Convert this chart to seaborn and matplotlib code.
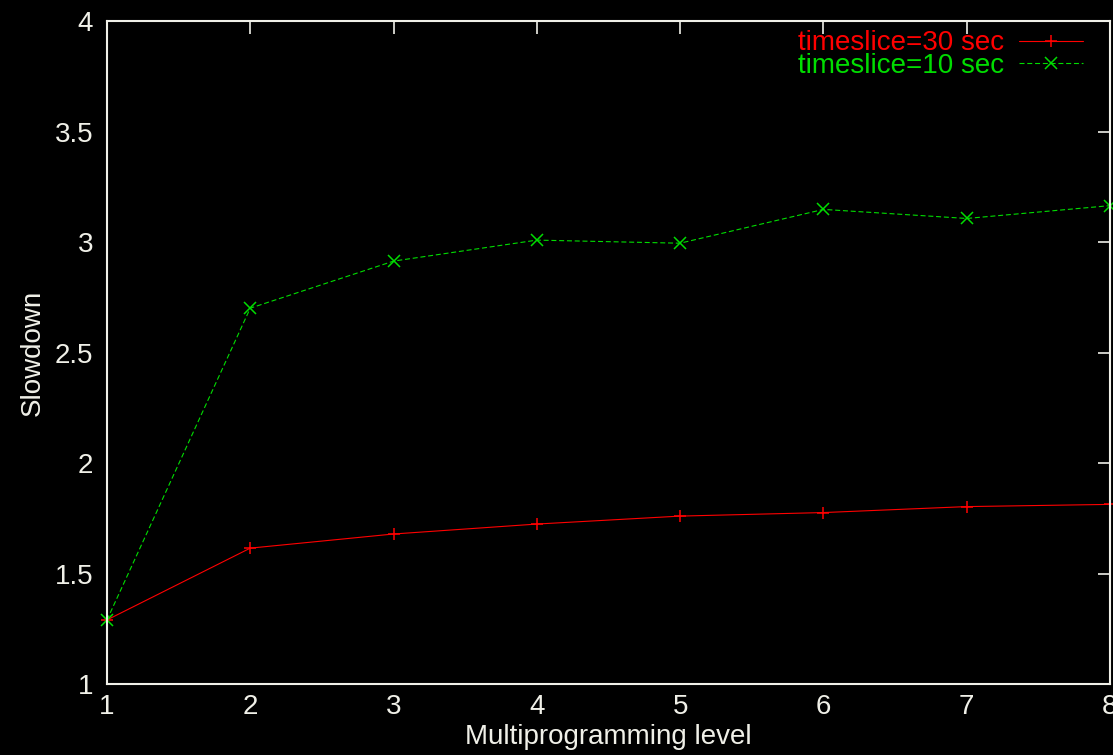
import pandas as pd
import matplotlib
matplotlib.use("Agg")
import matplotlib.pyplot as plt
import seaborn as sns

# datos
niveles = [1, 2, 3, 4, 5, 6, 7, 8]
slowdown_30s = [1.29, 1.615, 1.679, 1.724, 1.760, 1.776, 1.803, 1.813]
slowdown_10s = [1.29, 2.701, 2.914, 3.009, 2.995, 3.148, 3.107, 3.165]
etiquetas = ["timeslice=30 sec", "timeslice=10 sec"]
colores = ["#ff0000", "#00dd00"]
marcadores = ["+", "x"]
trazos = ["-", (0, (4.5, 2.5))]

yticks = [1, 1.5, 2, 2.5, 3, 3.5, 4]
ytick_labels = ["1", "1.5", "2", "2.5", "3", "3.5", "4"]

sns.set_style("dark")
plt.rcParams["font.family"] = ["Liberation Sans", "DejaVu Sans"]
fg = "#f0f0e8"

fig = plt.figure(figsize=(11.13, 7.55), dpi=100, facecolor="black")
ax = fig.add_axes([0.0961, 0.094, 0.9012, 0.878])
ax.set_facecolor("black")

for valores, etiqueta, color, marcador, trazo in zip(
        [slowdown_30s, slowdown_10s], etiquetas, colores, marcadores, trazos):
    df = pd.DataFrame({"nivel": niveles, "slowdown": valores})
    sns.lineplot(data=df, x="nivel", y="slowdown", color=color,
                 marker=marcador, markersize=8, markeredgewidth=1.1,
                 markeredgecolor=color, linewidth=0.8, linestyle=trazo,
                 label=etiqueta, ax=ax, clip_on=False)

ax.set_xlim(1, 8)
ax.set_ylim(1, 4)
ax.set_xticks(niveles)
ax.set_yticks(yticks)
ax.set_yticklabels(ytick_labels)
ax.tick_params(direction="in", colors=fg, labelcolor=fg, labelsize=20,
               length=9, width=1.2, top=True, right=True)
ax.tick_params(axis="y", pad=10)
ax.tick_params(axis="x", pad=7)
for s in ax.spines.values():
    s.set_color(fg)
    s.set_linewidth(1.5)
ax.grid(False)

ax.set_xlabel("Multiprogramming level", color=fg, fontsize=20, labelpad=3)
ax.set_ylabel("Slowdown", color=fg, fontsize=20, labelpad=6)

leg = ax.legend(loc="upper right", bbox_to_anchor=(0.973, 0.986),
                frameon=False, markerfirst=False, fontsize=20,
                handlelength=2.3, labelspacing=-0.14, borderaxespad=0,
                borderpad=0, handletextpad=0.55, labelcolor=colores)

fig.savefig("out.png", dpi=100, facecolor="black")
